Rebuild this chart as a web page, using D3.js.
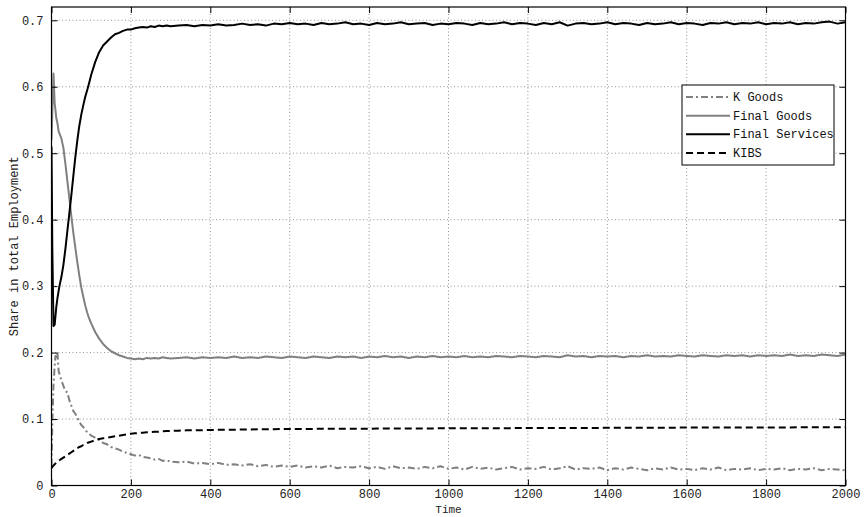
<!DOCTYPE html>
<html><head><meta charset="utf-8">
<script src="https://cdn.jsdelivr.net/npm/d3@7"></script>
<style>
body{margin:0;background:#fff;}
text{font-family:"Liberation Mono","Courier New",monospace;}
</style></head>
<body><svg id="c" width="864" height="517"></svg>
<script>
const times = [0,2,5,8,10,12,15,18,20,
 25,30,35,40,45,50,55,60,65,70,75,80,85,90,95,100,
 110,120,130,140,150,160,170,180,190,200,210,220,230,240,250,260,270,280,290,300,
 320,340,360,380,400,420,440,460,480,500,
 520,540,560,580,600,620,640,660,680,700,
 720,740,760,780,800,820,840,860,880,900,
 920,940,960,980,1000,1020,1040,1060,1080,1100,
 1120,1140,1160,1180,1200,1220,1240,1260,1280,1300,
 1320,1340,1360,1380,1400,1420,1440,1460,1480,1500,
 1520,1540,1560,1580,1600,1620,1640,1660,1680,1700,
 1720,1740,1760,1780,1800,1820,1840,1860,1880,1900,
 1920,1940,1960,1980,2000];

const kGoods = [0.03,0.09,0.15,0.18,0.195,0.19,0.2,0.172,0.168,
 0.158,0.15,0.142,0.14,0.128,0.12,0.112,0.108,0.102,0.096,0.091,0.088,0.084,0.080,0.078,0.075,
 0.072,0.069,0.064,0.062,0.058,0.056,0.054,0.051,0.049,0.047,0.045,0.046,0.043,0.042,0.041,0.039,0.040,0.037,0.038,0.036,
 0.035,0.036,0.033,0.034,0.032,0.034,0.031,0.032,0.030,0.032,
 0.029,0.031,0.028,0.030,0.028,0.030,0.027,0.029,0.027,0.030,
 0.026,0.028,0.027,0.029,0.026,0.028,0.025,0.029,0.026,0.027,
 0.025,0.028,0.026,0.029,0.025,0.027,0.024,0.028,0.025,0.027,
 0.024,0.026,0.028,0.024,0.026,0.025,0.028,0.024,0.026,0.029,
 0.024,0.026,0.025,0.027,0.023,0.026,0.024,0.027,0.025,0.023,
 0.026,0.024,0.027,0.024,0.025,0.023,0.026,0.024,0.027,0.023,
 0.025,0.024,0.026,0.023,0.025,0.024,0.026,0.023,0.025,0.024,
 0.026,0.023,0.025,0.024,0.023];

const finalGoods = [0.52,0.56,0.62,0.575,0.565,0.553,0.545,0.533,0.530,
 0.522,0.508,0.484,0.458,0.432,0.405,0.380,0.358,0.336,0.316,0.298,0.284,0.271,0.260,0.251,0.244,
 0.231,0.221,0.213,0.207,0.202,0.199,0.196,0.194,0.192,0.191,0.190,0.191,0.190,0.192,0.191,0.192,0.191,0.193,0.192,0.191,
 0.192,0.193,0.191,0.193,0.192,0.193,0.192,0.194,0.192,0.193,
 0.192,0.194,0.193,0.192,0.194,0.193,0.192,0.194,0.193,0.192,
 0.194,0.193,0.194,0.192,0.194,0.193,0.195,0.193,0.194,0.192,
 0.194,0.193,0.195,0.193,0.194,0.193,0.195,0.193,0.194,0.193,
 0.195,0.194,0.193,0.195,0.194,0.193,0.195,0.194,0.193,0.196,
 0.194,0.195,0.193,0.195,0.194,0.195,0.193,0.195,0.194,0.196,
 0.194,0.195,0.194,0.196,0.195,0.194,0.196,0.195,0.194,0.196,
 0.195,0.196,0.194,0.196,0.195,0.196,0.195,0.197,0.195,0.196,
 0.195,0.197,0.196,0.195,0.197];

const finalServices = [0.51,0.36,0.24,0.242,0.255,0.268,0.282,0.293,0.300,
 0.314,0.332,0.356,0.383,0.410,0.437,0.466,0.494,0.519,0.541,0.558,0.572,0.585,0.595,0.606,0.618,
 0.637,0.652,0.662,0.668,0.674,0.679,0.681,0.684,0.686,0.686,0.688,0.689,0.690,0.689,0.691,0.690,0.692,0.691,0.692,0.691,
 0.692,0.693,0.691,0.693,0.692,0.694,0.692,0.693,0.695,0.693,
 0.694,0.692,0.695,0.694,0.696,0.694,0.695,0.693,0.696,0.694,
 0.695,0.697,0.694,0.695,0.693,0.696,0.694,0.695,0.697,0.694,
 0.695,0.696,0.693,0.695,0.694,0.696,0.695,0.693,0.696,0.694,
 0.695,0.697,0.694,0.696,0.695,0.693,0.696,0.694,0.697,0.692,
 0.695,0.696,0.694,0.695,0.697,0.694,0.696,0.695,0.693,0.696,
 0.694,0.695,0.697,0.694,0.696,0.695,0.693,0.696,0.695,0.697,
 0.694,0.696,0.695,0.697,0.694,0.696,0.695,0.697,0.694,0.696,
 0.695,0.697,0.698,0.695,0.697];

const kibs = [0.026,0.028,0.030,0.032,0.033,0.034,0.036,0.037,0.038,
 0.040,0.042,0.044,0.046,0.048,0.050,0.052,0.054,0.056,0.058,0.059,0.061,0.062,0.064,0.065,0.066,
 0.068,0.070,0.071,0.072,0.073,0.074,0.075,0.076,0.077,0.078,0.0785,0.079,0.0795,0.080,0.0805,0.081,0.081,0.0815,0.082,0.082,
 0.0825,0.083,0.083,0.0833,0.0835,0.0838,0.084,0.084,0.0842,0.0844,
 0.0845,0.0846,0.0848,0.085,0.085,0.0851,0.0852,0.0852,0.0853,0.0853,
 0.0854,0.0854,0.0855,0.0855,0.0855,0.0856,0.0856,0.0857,0.0857,0.0858,
 0.0858,0.0859,0.0859,0.086,0.086,0.0860,0.0861,0.0861,0.0862,0.0862,
 0.0862,0.0863,0.0863,0.0864,0.0864,0.0864,0.0865,0.0865,0.0866,0.0866,
 0.0866,0.0867,0.0867,0.0867,0.0868,0.0868,0.0868,0.0869,0.0869,0.0869,
 0.0870,0.0870,0.0870,0.0871,0.0871,0.0871,0.0872,0.0872,0.0872,0.0873,
 0.0873,0.0873,0.0873,0.0874,0.0874,0.0874,0.0874,0.0874,0.0875,0.0875,
 0.0875,0.0875,0.0875,0.0875,0.0875];

const seriesNames = ["K Goods","Final Goods","Final Services","KIBS"];
const xTicks = [0,200,400,600,800,1000,1200,1400,1600,1800,2000];
const yTicks = [0,0.1,0.2,0.3,0.4,0.5,0.6,0.7];
const yTickLabels = ["0","0.1","0.2","0.3","0.4","0.5","0.6","0.7"];
const xLabel = "Time";
const yLabel = "Share in total Employment";

const styles = [
  {color:"#808080", dash:"7,3,2,3", width:2},
  {color:"#808080", dash:null, width:2},
  {color:"#000000", dash:null, width:2},
  {color:"#000000", dash:"7,4", width:2}
];
const seriesData = [kGoods, finalGoods, finalServices, kibs];

const svg = d3.select("#c");
const L = 51.5, R = 845.5, T = 7, B = 485.5;
const x = d3.scaleLinear().domain([0,2000]).range([L,R]);
const y = d3.scaleLinear().domain([0,0.72]).range([B,T]);

// grid
const grid = svg.append("g").attr("stroke","#777").attr("stroke-width",0.8).attr("stroke-dasharray","1,2.5");
xTicks.slice(1,-1).forEach(t=>grid.append("line").attr("x1",x(t)).attr("x2",x(t)).attr("y1",T).attr("y2",B));
yTicks.slice(1).forEach(t=>grid.append("line").attr("x1",L).attr("x2",R).attr("y1",y(t)).attr("y2",y(t)));

// series
svg.append("clipPath").attr("id","clip").append("rect").attr("x",L).attr("y",T).attr("width",R-L).attr("height",B-T);
const line = d3.line().x((d,i)=>x(times[i])).y(d=>y(d));
const gl = svg.append("g").attr("clip-path","url(#clip)");
seriesData.forEach((s,k)=>{
  const p = gl.append("path").datum(s).attr("d",line).attr("fill","none")
    .attr("stroke",styles[k].color).attr("stroke-width",styles[k].width).attr("stroke-linejoin","round");
  if(styles[k].dash) p.attr("stroke-dasharray",styles[k].dash);
});

// axes (box with inward ticks)
const axB = d3.axisBottom(x).tickValues(xTicks).tickSize(-6).tickPadding(4).tickFormat(d3.format("d"));
const axT = d3.axisTop(x).tickValues(xTicks).tickSize(-6).tickFormat("");
const axLf = d3.axisLeft(y).tickValues(yTicks).tickSize(-6).tickPadding(8).tickFormat((d,i)=>yTickLabels[i]);
const axRt = d3.axisRight(y).tickValues(yTicks).tickSize(-6).tickFormat("");
function styleAx(g){
  g.select(".domain").remove();
  g.selectAll("line").attr("stroke","#000");
  g.selectAll("text").attr("font-family","Liberation Mono, monospace").attr("font-size",12).attr("fill","#222");
}
svg.append("g").attr("transform",`translate(0,${B})`).call(axB).call(styleAx);
svg.append("g").attr("transform",`translate(0,${T})`).call(axT).call(styleAx);
svg.append("g").attr("transform",`translate(${L},0)`).call(axLf).call(styleAx);
svg.append("g").attr("transform",`translate(${R},0)`).call(axRt).call(styleAx);
svg.append("rect").attr("x",L).attr("y",T).attr("width",R-L).attr("height",B-T).attr("fill","none").attr("stroke","#000").attr("stroke-width",1.2);

// labels
svg.append("text").attr("x",(L+R)/2).attr("y",513).attr("text-anchor","middle").attr("font-size",11).attr("fill","#222").text(xLabel);
svg.append("text").attr("transform",`translate(18,${(T+B)/2}) rotate(-90)`).attr("text-anchor","middle").attr("font-size",12).attr("fill","#222").text(yLabel);

// legend
const lg = svg.append("g");
lg.append("rect").attr("x",682).attr("y",85).attr("width",152).attr("height",80).attr("fill","#fff").attr("stroke","#000").attr("stroke-width",1);
const ly = [97,115.7,134.3,153];
seriesNames.forEach((n,k)=>{
  const l = lg.append("line").attr("x1",686).attr("x2",730).attr("y1",ly[k]).attr("y2",ly[k])
    .attr("stroke",styles[k].color).attr("stroke-width",styles[k].width);
  if(styles[k].dash) l.attr("stroke-dasharray",styles[k].dash);
  lg.append("text").attr("x",733).attr("y",ly[k]+4).attr("font-size",12).attr("fill","#111").text(n);
});
</script></body></html>
